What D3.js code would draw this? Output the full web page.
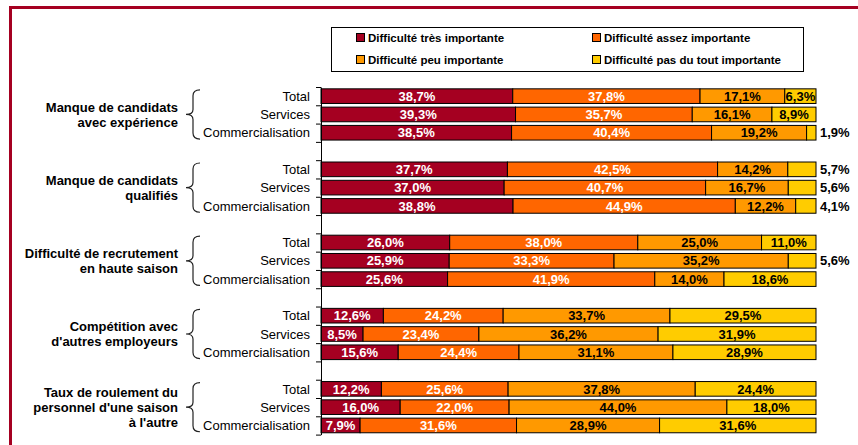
<!DOCTYPE html>
<html lang="fr">
<head>
<meta charset="utf-8">
<title>Difficultés de recrutement</title>
<script src="https://cdn.jsdelivr.net/npm/d3@7/dist/d3.min.js"></script>
<style>
  body { margin: 0; background: #fff; }
  svg { display: block; font-family: "Liberation Sans", Arial, sans-serif; }
</style>
</head>
<body>
<svg id="chart"></svg>
<script>
// categories
const groups = [
  ["Manque de candidats", "avec expérience"],
  ["Manque de candidats", "qualifiés"],
  ["Difficulté de recrutement", "en haute saison"],
  ["Compétition avec", "d'autres employeurs"],
  ["Taux de roulement du", "personnel d'une saison", "à l'autre"]
];
const segments = ["Total", "Services", "Commercialisation"];
const levels = [
  "Difficulté très importante",
  "Difficulté assez importante",
  "Difficulté peu importante",
  "Difficulté pas du tout importante"
];

// values, % (rows: group x segment, in order)
const tresImportante  = [38.7, 39.3, 38.5, 37.7, 37.0, 38.8, 26.0, 25.9, 25.6, 12.6, 8.5, 15.6, 12.2, 16.0, 7.9];
const assezImportante = [37.8, 35.7, 40.4, 42.5, 40.7, 44.9, 38.0, 33.3, 41.9, 24.2, 23.4, 24.4, 25.6, 22.0, 31.6];
const peuImportante   = [17.1, 16.1, 19.2, 14.2, 16.7, 12.2, 25.0, 35.2, 14.0, 33.7, 36.2, 31.1, 37.8, 44.0, 28.9];
const pasImportante   = [6.3, 8.9, 1.9, 5.7, 5.6, 4.1, 11.0, 5.6, 18.6, 29.5, 31.9, 28.9, 24.4, 18.0, 31.6];

const series = [tresImportante, assezImportante, peuImportante, pasImportante];
const colors = ["#a50021", "#ff6600", "#ff9900", "#ffcc00"];
const textColors = ["#fff", "#fff", "#000", "#000"];

const width = 858, height = 445;
const svg = d3.select("#chart").attr("width", width).attr("height", height);

// frame
svg.append("line").attr("x1", 9).attr("x2", width).attr("y1", 7.5).attr("y2", 7.5)
  .attr("stroke", "#a50021").attr("stroke-width", 3);
svg.append("line").attr("x1", 10.5).attr("x2", 10.5).attr("y1", 6).attr("y2", height)
  .attr("stroke", "#a50021").attr("stroke-width", 3);

// rows, with a blank slot between groups
const rows = [];
groups.forEach((g, gi) => {
  segments.forEach((s, si) => {
    const i = gi * 3 + si;
    const row = { group: gi, segment: s, slot: gi * 4 + si };
    levels.forEach((l, li) => row[li] = series[li][i]);
    rows.push(row);
  });
});

const nSlots = groups.length * 4 - 1;
const x = d3.scaleLinear().domain([0, 1]).range([321, 816]);
const y = d3.scaleBand().domain(d3.range(nSlots)).range([87, 434.6])
  .paddingInner(0.2).paddingOuter(0.1);
const yTicks = d3.scaleLinear().domain([0, nSlots]).range([87, 434.6]);

const stack = d3.stack().keys(d3.range(levels.length)).offset(d3.stackOffsetExpand);
const stacked = stack(rows);

const layer = svg.append("g").selectAll("g")
  .data(stacked)
  .join("g")
  .attr("fill", (d, i) => colors[i]);

layer.selectAll("rect")
  .data(d => d)
  .join("rect")
  .attr("x", d => x(d[0]))
  .attr("width", d => x(d[1]) - x(d[0]))
  .attr("y", d => y(d.data.slot))
  .attr("height", y.bandwidth())
  .attr("stroke", "#000")
  .attr("stroke-width", 1);

// value labels
stacked.forEach((s, li) => {
  svg.append("g").selectAll("text")
    .data(s)
    .join("text")
    .attr("x", d => d.data[li] >= 6 ? (x(d[0]) + x(d[1])) / 2 : 820)
    .attr("y", d => y(d.data.slot) + y.bandwidth() / 2)
    .attr("dy", "0.36em")
    .attr("text-anchor", d => d.data[li] >= 6 ? "middle" : "start")
    .attr("fill", d => d.data[li] >= 6 ? textColors[li] : "#000")
    .style("font-size", "13px")
    .style("font-weight", "bold")
    .text(d => d.data[li].toFixed(1).replace(".", ",") + "%");
});

// axis
svg.append("g")
  .attr("transform", "translate(321,0)")
  .call(d3.axisLeft(yTicks).ticks(nSlots).tickSize(5).tickSizeOuter(0).tickFormat(""))
  .call(g => g.selectAll("path, line").attr("stroke", "#000"));

// segment labels
svg.append("g").selectAll("text")
  .data(rows)
  .join("text")
  .attr("x", 310)
  .attr("y", d => y(d.slot) + y.bandwidth() / 2)
  .attr("dy", "0.36em")
  .attr("text-anchor", "end")
  .style("font-size", "13px")
  .text(d => d.segment);

// group labels and braces
groups.forEach((lines, gi) => {
  const top = y(gi * 4) + 1;
  const bottom = y(gi * 4 + 2) + y.bandwidth() - 1;
  const mid = (top + bottom) / 2;
  svg.append("path")
    .attr("d", `M200,${top} Q193,${top} 193,${top + 6} L193,${mid - 5} Q193,${mid} 186,${mid} Q193,${mid} 193,${mid + 5} L193,${bottom - 6} Q193,${bottom} 200,${bottom}`)
    .attr("fill", "none")
    .attr("stroke", "#222")
    .attr("stroke-width", 1.2);
  const t = svg.append("text")
    .attr("x", 178)
    .attr("text-anchor", "end")
    .style("font-size", "13px")
    .style("font-weight", "bold");
  lines.forEach((ln, k) => {
    t.append("tspan")
      .attr("x", 178)
      .attr("y", mid + (k - (lines.length - 1) / 2) * 15)
      .attr("dy", "0.36em")
      .text(ln);
  });
});

// legend
const legend = svg.append("g");
legend.append("rect")
  .attr("x", 331.5).attr("y", 27.5).attr("width", 472).attr("height", 44)
  .attr("fill", "#fff").attr("stroke", "#000");
const legendPos = [[356, 38], [592, 38], [356, 60], [592, 60]];
levels.forEach((l, i) => {
  const [lx, ly] = legendPos[i];
  legend.append("rect")
    .attr("x", lx + 0.5).attr("y", ly - 4.5).attr("width", 8).attr("height", 8)
    .attr("fill", colors[i]).attr("stroke", "#000");
  legend.append("text")
    .attr("x", lx + 12).attr("y", ly)
    .attr("dy", "0.36em")
    .style("font-size", "11.5px")
    .style("font-weight", "bold")
    .text(l);
});
</script>
</body>
</html>
